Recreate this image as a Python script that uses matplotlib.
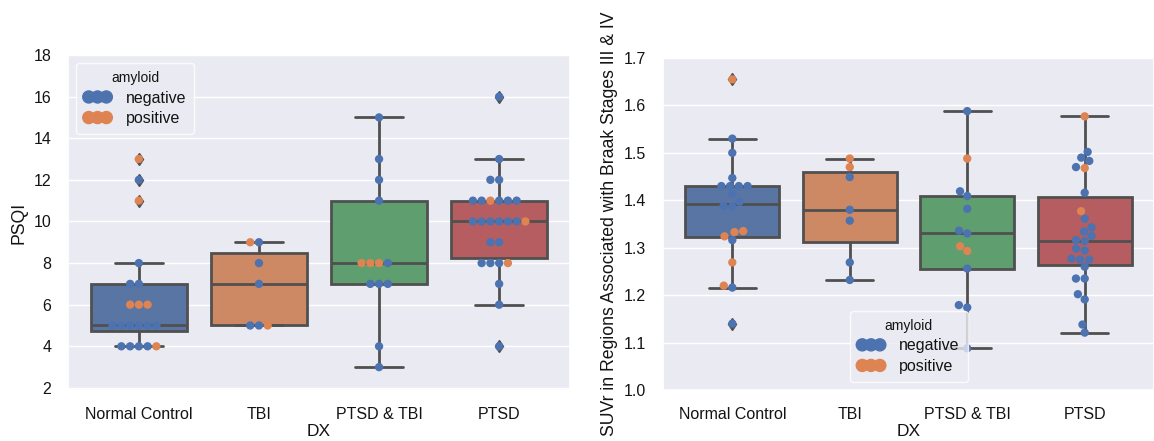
import matplotlib
matplotlib.use("Agg")
import matplotlib.pyplot as plt
import pandas as pd
import seaborn as sns

groups = ["Normal Control", "TBI", "PTSD & TBI", "PTSD"]
amyloid_levels = ["negative", "positive"]

# PSQI values, per group and amyloid status
psqi_nc_neg = [4, 4, 4, 4, 5, 5, 5, 5, 5, 5, 7, 7, 8, 12]
psqi_nc_pos = [4, 6, 6, 6, 11, 13]
psqi_tbi_neg = [9, 8, 7, 5, 5]
psqi_tbi_pos = [9, 5]
psqi_pt_neg = [15, 13, 12, 11, 8, 7, 7, 7, 4, 3]
psqi_pt_pos = [8, 8, 8]
psqi_ptsd_neg = [16, 13, 12, 12, 11, 11, 11, 11, 11, 10, 10, 10, 10, 10, 10,
                 9, 9, 8, 8, 8, 7, 6, 4]
psqi_ptsd_pos = [11, 10, 8]

# SUVr values, per group and amyloid status
suvr_nc_neg = [1.53, 1.50, 1.447, 1.43, 1.43, 1.43, 1.43, 1.413, 1.397, 1.388,
               1.387, 1.316, 1.216, 1.14]
suvr_nc_pos = [1.655, 1.335, 1.333, 1.324, 1.269, 1.22]
suvr_tbi_neg = [1.449, 1.380, 1.357, 1.269, 1.232]
suvr_tbi_pos = [1.488, 1.470]
suvr_pt_neg = [1.588, 1.419, 1.409, 1.382, 1.336, 1.330, 1.256, 1.179, 1.174, 1.088]
suvr_pt_pos = [1.488, 1.303, 1.293]
suvr_ptsd_neg = [1.502, 1.49, 1.483, 1.470, 1.416, 1.361, 1.343, 1.334, 1.325,
                 1.316, 1.314, 1.298, 1.294, 1.277, 1.275, 1.275, 1.260, 1.235,
                 1.235, 1.202, 1.191, 1.138, 1.121]
suvr_ptsd_pos = [1.577, 1.468, 1.377]


def make_frame(col, parts):
    rows = []
    for g, (neg, pos) in zip(groups, parts):
        for v in neg:
            rows.append((g, "negative", v))
        for v in pos:
            rows.append((g, "positive", v))
    return pd.DataFrame(rows, columns=["DX", "amyloid", col])


psqi = make_frame("PSQI", [(psqi_nc_neg, psqi_nc_pos), (psqi_tbi_neg, psqi_tbi_pos),
                           (psqi_pt_neg, psqi_pt_pos), (psqi_ptsd_neg, psqi_ptsd_pos)])
suvr = make_frame("SUVr", [(suvr_nc_neg, suvr_nc_pos), (suvr_tbi_neg, suvr_tbi_pos),
                           (suvr_pt_neg, suvr_pt_pos), (suvr_ptsd_neg, suvr_ptsd_pos)])

sns.set_theme(style="darkgrid")
plt.rcParams["font.family"] = ["Liberation Sans", "DejaVu Sans"]
plt.rcParams["font.size"] = 11.5
plt.rcParams["text.color"] = "0.08"
plt.rcParams["axes.labelcolor"] = "0.08"
plt.rcParams["xtick.color"] = "0.08"
plt.rcParams["ytick.color"] = "0.08"

deep = sns.color_palette("deep")
box_pal = deep[:4]
dot_pal = {"negative": deep[0], "positive": deep[1]}
line_col = "#505050"

fig = plt.figure(figsize=(11.54, 4.41), dpi=100)
ax1 = fig.add_axes([68 / 1154, 51 / 441, 502 / 1154, 335 / 441])
ax2 = fig.add_axes([663 / 1154, 51 / 441, 491 / 1154, 332 / 441])


def draw(ax, df, col, ylabel, ylim, yticks, loc):
    sns.boxplot(data=df, x="DX", y=col, hue="DX", order=groups, hue_order=groups,
                palette=box_pal, legend=False, ax=ax, width=0.8,
                linewidth=2, linecolor=line_col,
                flierprops=dict(marker="d", markersize=6, markerfacecolor=line_col,
                                markeredgecolor=line_col))
    sns.swarmplot(data=df, x="DX", y=col, hue="amyloid", order=groups,
                  hue_order=amyloid_levels, palette=dot_pal, size=6, ax=ax)
    ax.set_ylim(*ylim)
    ax.set_yticks(yticks)
    ax.set_xlabel("DX", fontsize=12.5, labelpad=2)
    ax.set_ylabel(ylabel, fontsize=12.7)
    ax.tick_params(axis="both", labelsize=11.5, pad=6)
    ax.xaxis.grid(False)
    if ax.get_legend() is not None:
        ax.get_legend().remove()
    handles = [ax.scatter([], [], s=75, color=dot_pal[a]) for a in amyloid_levels]
    leg = ax.legend(handles, amyloid_levels, title="amyloid", loc=loc,
                    scatterpoints=3, scatteryoffsets=[0.5], handlelength=1.7,
                    handletextpad=0.9, fontsize=11.5, title_fontsize=10,
                    borderpad=0.5, labelspacing=0.35)
    leg.get_frame().set_facecolor("#EAEAF2")
    leg.get_frame().set_edgecolor("white")


draw(ax1, psqi, "PSQI", "PSQI", (1.9, 18), range(2, 19, 2), "upper left")
draw(ax2, suvr, "SUVr", "SUVr in Regions Associated with Braak Stages III & IV",
     (1.0, 1.7), [1.0, 1.1, 1.2, 1.3, 1.4, 1.5, 1.6, 1.7], "lower center")
ax2.set_yticklabels(["1.0", "1.1", "1.2", "1.3", "1.4", "1.5", "1.6", "1.7"])

fig.savefig("out.png", dpi=100)
